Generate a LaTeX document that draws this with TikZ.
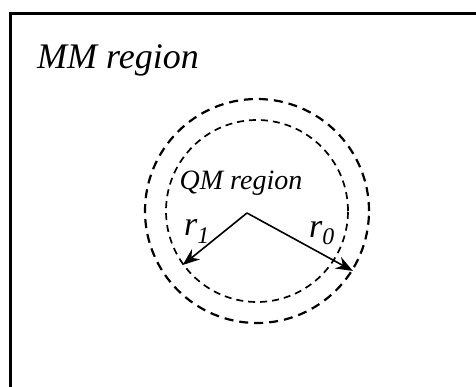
\documentclass[tikz,border=0pt]{standalone}
\usepackage{fontspec}
\setmainfont{Liberation Serif}
\usetikzlibrary{arrows.meta, positioning}

\begin{document}
\begin{tikzpicture}[
    x=1pt, y=-1pt,
    every node/.style={inner sep=0pt, font=\itshape},
    ring/.style={circle, draw, dashed, inner sep=0pt},
    outerring/.style={ring, line width=2.2pt, dash pattern=on 9pt off 6pt, minimum size=224pt},
    innerring/.style={ring, line width=1.7pt, dash pattern=on 7pt off 5pt, minimum size=182pt},
    radius/.style={-{Stealth[length=17pt, width=13pt]}, line width=1.6pt}
]
\useasboundingbox (0,0) rectangle (476,387);
\clip (0,0) rectangle (476,387);

% Frame of the MM region
\draw[line width=3.5pt] (10.5,13.5) rectangle (500,420);
\node[anchor=base west, font=\itshape\fontsize{36}{40}\selectfont] (mm) at (37,69) {MM region};

% Nested QM boundaries
\coordinate (c) at (257,211);
\node[outerring] (outer) at (c) {};
\node[innerring] (inner) at (c) {};

% Labels
\node[anchor=base, font=\itshape\fontsize{28}{32}\selectfont] (qm) at (241,190) {QM region};
\node[anchor=base, font=\itshape\fontsize{34}{38}\selectfont] (r1) at (197,236) {r\textsubscript{1}};
\node[anchor=base, font=\itshape\fontsize{34}{38}\selectfont] (r0) at (322,237) {r\textsubscript{0}};

% Radii
\coordinate (o) at (247,213);
\draw[radius] (o) -- (inner.-144);
\draw[radius] (o) -- (outer.-32);

\end{tikzpicture}
\end{document}
